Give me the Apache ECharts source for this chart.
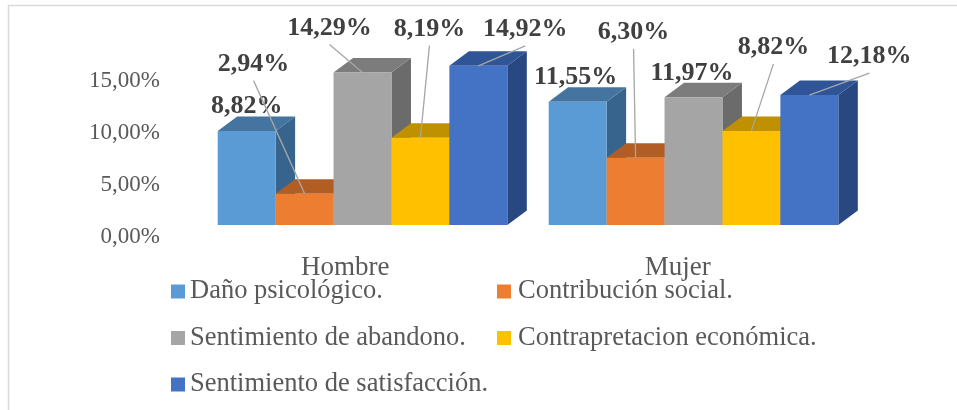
<!DOCTYPE html>
<html>
<head>
<meta charset="utf-8">
<style>html,body{margin:0;padding:0;background:#fff}#c{width:957px;height:410px}</style>
<script src="https://cdn.jsdelivr.net/npm/echarts@6/dist/echarts.min.js"></script>
</head>
<body>
<div id="c"></div>
<script>
var categories = ['Hombre', 'Mujer'];
var seriesNames = ['Daño psicológico.', 'Contribución social.', 'Sentimiento de abandono.', 'Contrapretacion económica.', 'Sentimiento de satisfacción.'];
var danoPsicologico = [8.82, 11.55];
var contribucionSocial = [2.94, 6.30];
var sentimientoAbandono = [14.29, 11.97];
var contrapretacion = [8.19, 8.82];
var sentimientoSatisfaccion = [14.92, 12.18];
var seriesValues = [danoPsicologico, contribucionSocial, sentimientoAbandono, contrapretacion, sentimientoSatisfaccion];
var axisTicks = [0, 5, 10, 15];

// styles
var frontColors = ['#5B9BD5', '#ED7D31', '#A5A5A5', '#FFC000', '#4472C4'];
var topColors = ['#44749F', '#B25D23', '#7C7C7C', '#BF9000', '#2F5597'];
var sideColors = ['#37648C', '#A35420', '#6B6B6B', '#A67D00', '#294780'];
// label placement relative to each bar's top centre: [dx, dy, hasLeader], indexed [series][category]
var labelPlace = [
  [[0, -26, 0], [-2, -26, 0]],
  [[-51, -131, 1], [-2, -127, 1]],
  [[-33, -46, 1], [-1.5, -26, 0]],
  [[9, -110, 1], [22, -85, 1]],
  [[47, -38, 1], [60, -40, 1]]
];
var barRatio = 0.175, depthX = 19.5, depthY = 14.5;
var serif = '"Liberation Serif","Times New Roman",serif';

function fmt(v) { return v.toFixed(2).replace('.', ',') + '%'; }

function makeRenderer(si) {
  return function (params, api) {
    var cat = api.value(0), val = api.value(1);
    var band = api.size([1, 0])[0];
    var w = band * barRatio;
    var c = api.coord([cat, val]);
    var base = api.coord([cat, 0]);
    var x0 = c[0] + (si - 2.5) * w, x1 = x0 + w, yT = c[1], yB = base[1];
    var children = [
      { type: 'polygon', shape: { points: [[x1, yT], [x1 + depthX, yT - depthY], [x1 + depthX, yB - depthY], [x1, yB]] }, style: { fill: sideColors[si] } },
      { type: 'polygon', shape: { points: [[x0, yT], [x0 + depthX, yT - depthY], [x1 + depthX, yT - depthY], [x1, yT]] }, style: { fill: topColors[si] } },
      { type: 'rect', shape: { x: x0, y: yT, width: w, height: yB - yT }, style: { fill: frontColors[si] } }
    ];
    var p = labelPlace[si][cat];
    var cx = (x0 + x1) / 2, lx = cx + p[0], ly = yT + p[1];
    if (p[2]) {
      children.push({ type: 'line', z2: 20, shape: { x1: lx, y1: ly + 18, x2: cx, y2: yT }, style: { stroke: '#A6A6A6', lineWidth: 1.3 } });
    }
    children.push({ type: 'text', z2: 30, style: { x: lx, y: ly + 1.5, text: fmt(val), align: 'center', verticalAlign: 'middle', fill: '#404040', font: 'bold 26px ' + serif } });
    return { type: 'group', children: children };
  };
}

var series = seriesNames.map(function (name, si) {
  return {
    name: name,
    type: 'custom',
    xAxisIndex: 1,
    yAxisIndex: 1,
    clip: false,
    z: 2 + si,
    itemStyle: { color: frontColors[si] },
    encode: { x: 0, y: 1 },
    data: seriesValues[si].map(function (v, i) { return [i, v]; }),
    renderItem: makeRenderer(si)
  };
});

function legendCol(left, names, textPad) {
  return {
    left: left, top: 278, orient: 'vertical', selectedMode: false, icon: 'rect',
    itemWidth: 14, itemHeight: 14, itemGap: 19.5,
    padding: 0,
    textStyle: { fontFamily: serif, fontSize: 26.5, color: '#595959', padding: [0, 0, 0, textPad] },
    data: names
  };
}

var chart = echarts.init(document.getElementById('c'), null, { renderer: 'canvas' });
chart.setOption({
  animation: false,
  backgroundColor: '#fff',
  grid: [
    { left: 179, width: 665, top: 81, height: 156 },
    { left: 197, width: 662, top: 65, height: 160 }
  ],
  xAxis: [
    { type: 'category', gridIndex: 0, data: categories, axisLine: { show: false }, axisTick: { show: false },
      axisLabel: { margin: 17, fontFamily: serif, fontSize: 27, color: '#595959' } },
    { type: 'category', gridIndex: 1, data: categories, show: false }
  ],
  yAxis: [
    { type: 'value', gridIndex: 0, min: axisTicks[0], max: axisTicks[axisTicks.length - 1], interval: axisTicks[1] - axisTicks[0],
      axisLine: { show: false }, axisTick: { show: false }, splitLine: { show: false },
      axisLabel: { margin: 19, fontFamily: serif, fontSize: 23, color: '#595959', formatter: function (v) { return fmt(v); } } },
    { type: 'value', gridIndex: 1, min: 0, max: 15, show: false, splitLine: { show: false } }
  ],
  legend: [
    legendCol(171, [seriesNames[0], seriesNames[2], seriesNames[4]], 0),
    legendCol(497, [seriesNames[1], seriesNames[3]], 2)
  ],
  graphic: [
    { type: 'line', silent: true, shape: { x1: 8, y1: 5.5, x2: 957, y2: 5.5 }, style: { stroke: '#D9D9D9', lineWidth: 1.5 } },
    { type: 'line', silent: true, shape: { x1: 8.5, y1: 5, x2: 8.5, y2: 410 }, style: { stroke: '#D9D9D9', lineWidth: 1.5 } }
  ],
  series: series
});
</script>
</body>
</html>
